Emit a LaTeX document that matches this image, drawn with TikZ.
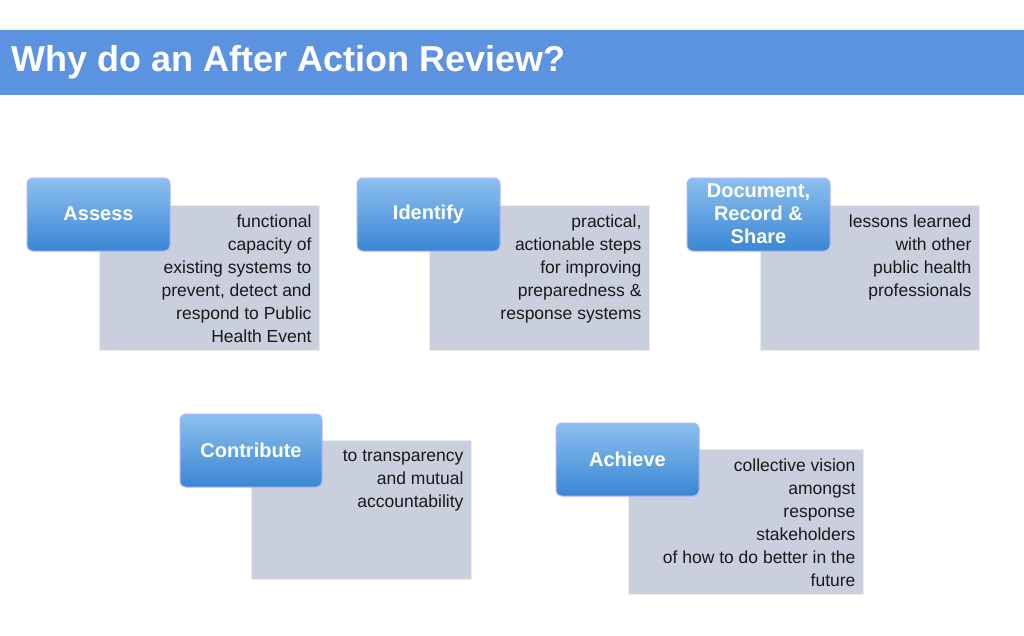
\documentclass[tikz,border=0pt]{standalone}
\usepackage{fontspec}
\setmainfont{Liberation Sans}
\begin{document}
\begin{tikzpicture}[x=1pt,y=-1pt,
  graybox/.style={draw=white!85!gray,line width=1pt,fill=graybg},
  bluebox/.style={draw=blue!30!white,line width=1pt,rounded corners=6pt,top color=btop,bottom color=bbot},
  bluetext/.style={text=white,font=\fontsize{20}{23}\selectfont\bfseries,align=center},
  bodytext/.style={anchor=north east,align=right,font=\fontsize{17.5}{23}\selectfont,text=black!90}]
\definecolor{graybg}{HTML}{C9CFDC}
\definecolor{btop}{HTML}{8CC0EE}
\definecolor{bbot}{HTML}{3A86D4}
\definecolor{bar}{HTML}{5B93E0}
\useasboundingbox (0,0) rectangle (1024,635);
\fill[white] (0,0) rectangle (1024,635);
\fill[bar] (0,30) rectangle (1024,95);
\node[anchor=west,text=white,font=\fontsize{36}{40}\selectfont\bfseries] (title) at (8,62) {Why do an After Action Review?};
% Assess
\draw[graybox] (99,205) rectangle (319,350);
\draw[bluebox] (27,178) rectangle (170,251);
\node[bluetext] (a) at (98.5,214) {Assess};
\node[bodytext] (at) at (315,211) {functional\\capacity of\\existing systems to\\prevent, detect and\\respond to Public\\Health Event};
% Identify
\draw[graybox] (429,205) rectangle (649,350);
\draw[bluebox] (357,178) rectangle (500,251);
\node[bluetext] (i) at (428.5,214) {Identify};
\node[bodytext] (it) at (645,211) {practical,\\actionable steps\\for improving\\preparedness \&\\response systems};
% Document
\draw[graybox] (760,205) rectangle (979,350);
\draw[bluebox] (687,178) rectangle (830,251);
\node[bluetext,font=\fontsize{20}{23}\selectfont\bfseries] (d) at (758.5,214) {Document,\\Record \&\\Share};
\node[bodytext] (dt) at (975,211) {lessons learned\\with other\\public health\\professionals};
% Contribute
\draw[graybox] (251,440) rectangle (471,579);
\draw[bluebox] (180,414) rectangle (322,487);
\node[bluetext] (c) at (251,450) {Contribute};
\node[bodytext] (ct) at (467,447) {to transparency\\and mutual\\accountability};
% Achieve
\draw[graybox] (628,449) rectangle (863,594);
\draw[bluebox] (556,423) rectangle (699,496);
\node[bluetext] (h) at (627.5,459) {Achieve};
\node[bodytext] (ht) at (859,455) {collective vision\\amongst\\response\\stakeholders\\of how to do better in the\\future};
\end{tikzpicture}
\end{document}
